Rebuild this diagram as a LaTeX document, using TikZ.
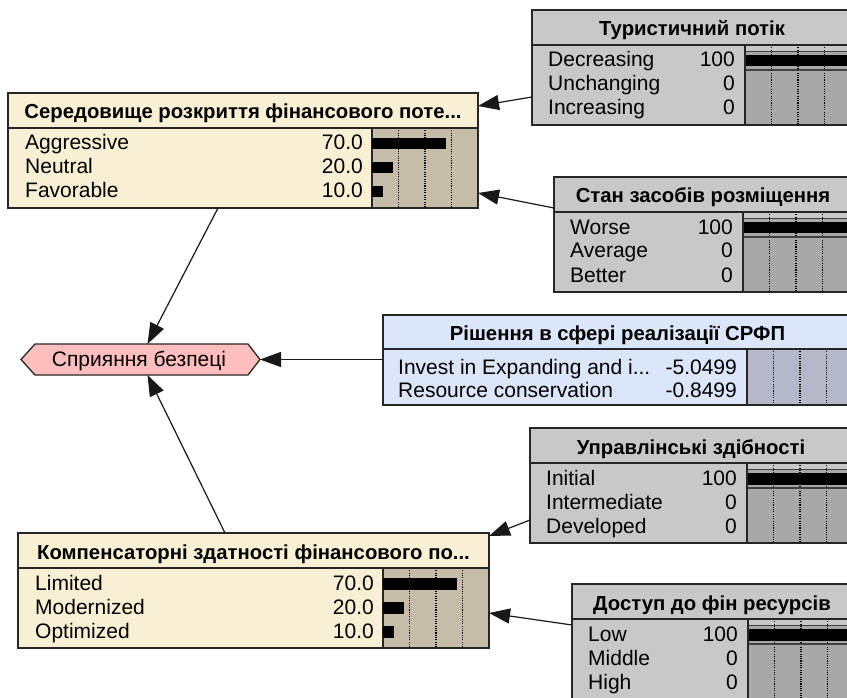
\documentclass[tikz,border=0pt]{standalone}
\usepackage{fontspec}
\setmainfont{Liberation Sans}
\usetikzlibrary{arrows.meta}
\definecolor{cream}{HTML}{F9EFD5}
\definecolor{tanbar}{HTML}{C5BDA8}
\definecolor{lgray}{HTML}{C8C8C8}
\definecolor{mgray}{HTML}{A8A8A8}
\definecolor{lblue}{HTML}{DCE6FA}
\definecolor{bblue}{HTML}{B4B8C8}
\definecolor{hexpink}{HTML}{FFBEBE}
\newcommand{\rfont}{\fontsize{21}{24}\selectfont}
\newcommand{\tfont}{\bfseries\fontsize{20.3}{24}\selectfont}
% gray node with a 100% first state
\newcommand{\fullnode}[6]{% #1 name, #2 x, #3 y, #4 value separator x, #5 title, #6 labels
  \pgfmathsetmacro\nbW{852-#2}
  \pgfmathsetmacro\nbS{#3+35}
  \pgfmathsetmacro\nbB{#3+115}
  \pgfmathsetmacro\nbTX{(#2+852)/2}
  \node[box,fill=lgray,minimum width=\nbW pt,minimum height=115pt] (#1) at (#2,#3) {};
  \fill[mgray] (#4,\nbS) rectangle (852,\nbB);
  \fill[lgray] (#4,\nbS) rectangle (852,\nbS+6.5);
  \foreach \d in {26.5,53,79.5} \draw[gridln] (#4+\d,\nbS) -- (#4+\d,\nbB);
  \draw[thinln] (#4,\nbS+6.5) -- (852,\nbS+6.5) (#4,\nbS+25) -- (852,\nbS+25);
  \fill[black] (#4,\nbS+10) rectangle (852,\nbS+21.5);
  \draw[sepline] (#2,\nbS) -- (852,\nbS) (#4,\nbS) -- (#4,\nbB);
  \draw[border] (#1.north west) rectangle (#1.south east);
  \node[ttl] (#1-t) at (\nbTX,\nbS-9) {#5};
  \foreach \l [count=\i] in {#6} {
    \node[lbl] (#1-l\i) at (#2+16,\nbS+22+24*\i-24) {\l};
    \node[val] (#1-v\i) at (#4-10,\nbS+22+24*\i-24) {\ifnum\i=1 100\else 0\fi};
  }
}
% cream node with 70/20/10
\newcommand{\probnode}[7]{% #1 name, #2 x, #3 y, #4 right x, #5 value separator x, #6 title, #7 labels
  \pgfmathsetmacro\nbW{#4-#2}
  \pgfmathsetmacro\nbS{#3+35}
  \pgfmathsetmacro\nbB{#3+115}
  \pgfmathsetmacro\nbTX{(#2+#4)/2}
  \pgfmathsetmacro\nbU{(#4-#5)/100}
  \node[box,fill=cream,minimum width=\nbW pt,minimum height=115pt] (#1) at (#2,#3) {};
  \fill[tanbar] (#5,\nbS) rectangle (#4,\nbB);
  \foreach \d in {0.25,0.5,0.75} \draw[gridln] (#5+\d*100*\nbU,\nbS) -- (#5+\d*100*\nbU,\nbB);
  \draw[sepline] (#2,\nbS) -- (#4,\nbS) (#5,\nbS) -- (#5,\nbB);
  \draw[border] (#1.north west) rectangle (#1.south east);
  \node[ttl] (#1-t) at (\nbTX,\nbS-9) {#6};
  \foreach \l/\p [count=\i] in {#7} {
    \fill[black] (#5,\nbS+10+24*\i-24) rectangle (#5+\p*\nbU,\nbS+21.5+24*\i-24);
    \node[lbl] (#1-l\i) at (#2+17,\nbS+22+24*\i-24) {\l};
    \node[val] (#1-v\i) at (#5-9,\nbS+22+24*\i-24) {\p.0};
  }
}
\begin{document}
\begin{tikzpicture}[x=1pt,y=-1pt,
  box/.style={anchor=north west,inner sep=0pt,outer sep=0pt,draw=none},
  border/.style={draw=black!85,line width=1.4pt},
  sepline/.style={draw=black!85,line width=1.3pt},
  ttl/.style={font=\tfont,anchor=base,inner sep=0pt},
  lbl/.style={font=\rfont,anchor=base west,inner sep=0pt},
  val/.style={font=\rfont,anchor=base east,inner sep=0pt},
  gridln/.style={draw=black,line width=1.1pt,dash pattern=on 1.1pt off 1.2pt},
  thinln/.style={draw=black!75,line width=1.1pt},
  arr/.style={draw=black!90,line width=1.2pt,-{Triangle[length=21pt,width=15pt]}}
]
\useasboundingbox (0,0) rectangle (847,698);
\clip (0,0) rectangle (847,698);
\fill[white] (0,0) rectangle (847,698);

\fullnode{tur}{532}{10}{745}{Туристичний потік}{Decreasing,Unchanging,Increasing}
\probnode{ser}{8}{93}{478}{372}{Середовище розкриття фінансового поте...}{Aggressive/70,Neutral/20,Favorable/10}
\fullnode{stan}{554}{177}{743}{Стан засобів розміщення}{Worse,Average,Better}
\fullnode{upr}{530}{428}{747}{Управлінські здібності}{Initial,Intermediate,Developed}
\probnode{komp}{18}{533}{489}{383}{Компенсаторні здатності фінансового по...}{Limited/70,Modernized/20,Optimized/10}
\fullnode{dost}{572}{584}{748}{Доступ до фін ресурсів}{Low,Middle,High}

% decision node
\node[box,fill=lblue,minimum width=469pt,minimum height=90pt] (rish) at (383,315) {};
\fill[bblue] (747,349) rectangle (852,405);
\foreach \d in {26.5,53,79.5} \draw[gridln] (747+\d,349) -- (747+\d,405);
\draw[sepline] (383,349) -- (852,349) (747,349) -- (747,405);
\draw[border] (rish.north west) rectangle (rish.south east);
\node[ttl] (rish-t) at (617.5,340) {Рішення в сфері реалізації СРФП};
\node[lbl] (rish-l1) at (398,374) {Invest in Expanding and i...};
\node[lbl] (rish-l2) at (398,397) {Resource conservation};
\node[val] (rish-v1) at (737,374) {-5.0499};
\node[val] (rish-v2) at (737,397) {-0.8499};

% utility node
\node[box,minimum width=213pt,minimum height=31pt] (hex) at (35,344) {};
\coordinate (hexR) at ([xshift=12pt]hex.east);
\coordinate (hexL) at ([xshift=-14pt]hex.west);
\draw[border,fill=hexpink,line width=1.3pt] (hex.north west) -- (hex.north east) -- (hexR) -- (hex.south east) -- (hex.south west) -- (hexL) -- cycle;
\node[font=\rfont,anchor=base,inner sep=0pt] (hex-t) at (139,366.5) {Сприяння безпеці};

% links
\draw[arr] ([yshift=-87pt]tur.north west) -- ([yshift=-13pt]ser.north east);
\draw[arr] ([yshift=-31pt]stan.north west) -- ([yshift=-100pt]ser.north east);
\draw[arr] ([xshift=210pt]ser.south west) -- ([xshift=6pt]hex.north);
\draw[arr] ([xshift=207pt]komp.north west) -- ([xshift=6pt]hex.south);
\draw[arr] ([yshift=-44.5pt]rish.north west) -- (hexR);
\draw[arr] ([yshift=-92pt]upr.north west) -- ([yshift=-3pt]komp.north east);
\draw[arr] ([yshift=-41pt]dost.north west) -- ([yshift=-80pt]komp.north east);
\end{tikzpicture}
\end{document}
